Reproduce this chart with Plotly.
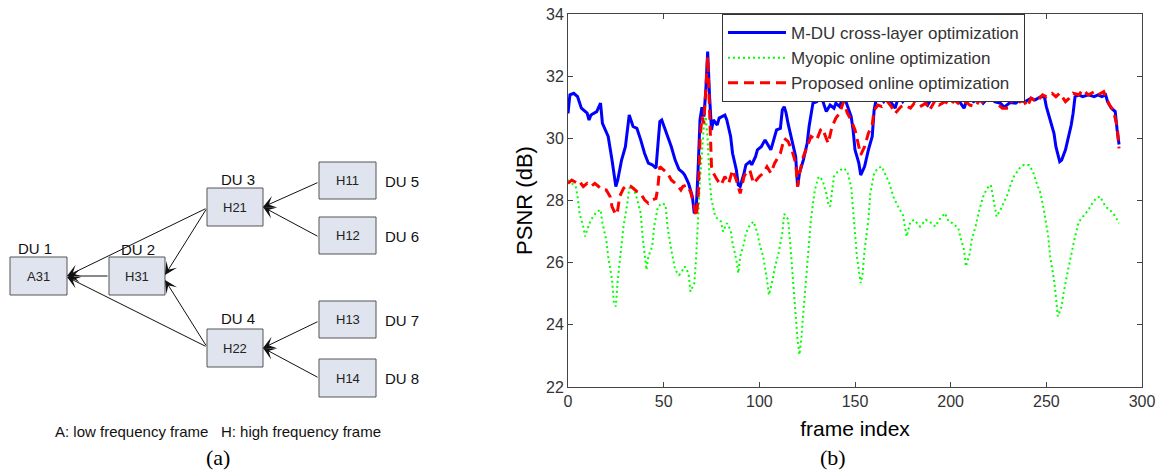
import plotly.graph_objects as go

FONT = "Liberation Sans, Arial, sans-serif"
SERIF = "Liberation Serif, Times New Roman, serif"

# ---------------- panel (b) data ----------------
series_names = ["M-DU cross-layer optimization",
                "Myopic online optimization",
                "Proposed online optimization"]

frames_mdu = [0, 1, 3, 5, 7, 10, 11, 12, 15, 17, 18, 20, 21, 23, 25, 26, 28, 30, 32, 34,
              36, 38, 40, 42, 44, 46, 48, 49, 51, 52, 54, 56, 58, 60, 61, 63, 65, 66, 67, 68,
              69, 70, 71, 72, 73, 74, 75, 76, 78, 79, 82, 83, 85, 86, 88, 89, 90, 92, 93, 95,
              96, 98, 99, 101, 103, 104, 106, 107, 109, 111, 112, 113, 114, 115, 117, 119, 120, 121, 123, 125,
              126, 128, 130, 132, 133, 135, 137, 139, 140, 142, 144, 146, 148, 149, 150, 152, 153, 155, 157, 159,
              160, 161, 163, 165, 167, 168, 171, 173, 175, 178, 181, 183, 186, 188, 191, 194, 196, 199, 201, 204,
              207, 209, 212, 215, 217, 221, 223, 226, 228, 231, 234, 236, 239, 242, 244, 247, 249, 250, 252, 254,
              255, 257, 258, 260, 262, 263, 264, 265, 267, 269, 272, 275, 277, 279, 281, 282, 284, 286, 287, 288]
psnr_mdu = [30.8, 31.4, 31.45, 31.34, 30.97, 30.81, 30.59, 30.75, 30.86, 31.13, 30.48, 30.16, 30.06, 29.3, 28.45, 28.66, 29.3, 29.73, 30.75, 30.38,
            30.32, 29.95, 29.52, 29.2, 29.15, 29.04, 30.54, 30.59, 30.27, 30.06, 29.73, 29.3, 29.0, 28.9, 28.82, 28.55, 28.13, 27.59, 27.7, 29.0,
            30.6, 31.0, 30.7, 31.5, 32.79, 31.34, 30.27, 30.59, 30.43, 30.65, 30.75, 30.59, 30.06, 29.52, 28.98, 28.5, 28.45, 28.88, 29.15, 29.25,
            29.15, 29.41, 29.63, 29.73, 29.95, 29.84, 29.63, 29.84, 30.27, 30.32, 30.91, 31.02, 30.81, 30.48, 29.95, 29.41, 28.45, 28.88, 29.3, 29.84,
            30.38, 31.13, 31.18, 31.34, 31.23, 30.86, 31.07, 30.97, 31.13, 31.02, 31.4, 31.02, 30.7, 30.27, 29.63, 29.2, 28.82, 29.09, 29.63, 30.06,
            30.91, 31.23, 31.34, 31.18, 31.4, 31.23, 30.97, 31.4, 31.18, 31.4, 31.18, 31.34, 31.23, 31.07, 31.4, 31.29, 31.23, 31.29, 31.4, 31.23,
            30.97, 31.34, 31.18, 31.29, 31.13, 31.4, 31.18, 31.13, 31.0, 31.15, 31.13, 31.23, 31.18, 31.29, 31.23, 31.34, 31.34, 31.02, 30.59, 30.16,
            29.73, 29.25, 29.3, 29.63, 30.16, 30.43, 30.81, 31.34, 31.4, 31.34, 31.4, 31.34, 31.4, 31.34, 31.4, 31.18, 30.97, 30.86, 30.27, 29.8]

frames_myopic = [0, 4, 5, 6, 8, 9, 10, 12, 15, 17, 18, 20, 21, 23, 24, 25, 26, 28, 29, 31,
                 32, 34, 36, 38, 39, 41, 42, 44, 45, 47, 49, 51, 52, 54, 56, 58, 59, 61, 63, 64,
                 66, 67, 68, 69, 70, 71, 72, 73, 74, 75, 77, 80, 81, 83, 85, 86, 88, 89, 90, 92,
                 93, 95, 97, 99, 100, 102, 104, 105, 107, 108, 110, 112, 113, 115, 116, 117, 118, 119, 120, 121,
                 122, 123, 124, 126, 127, 129, 131, 133, 135, 136, 137, 139, 141, 144, 146, 148, 149, 150, 151, 153,
                 154, 155, 157, 158, 160, 162, 164, 166, 168, 170, 172, 175, 177, 179, 181, 184, 187, 189, 192, 194,
                 197, 199, 201, 204, 205, 207, 208, 210, 211, 213, 215, 217, 219, 221, 222, 224, 226, 228, 230, 231,
                 233, 236, 238, 241, 243, 245, 247, 249, 251, 252, 254, 255, 256, 258, 259, 261, 263, 265, 267, 269,
                 272, 274, 276, 278, 281, 283, 285, 288]
psnr_myopic = [28.66, 28.45, 28.13, 27.59, 27.16, 26.84, 27.05, 27.38, 27.64, 27.7, 27.27, 26.73, 26.2, 25.45, 24.7, 24.59, 25.45, 26.52, 27.16, 27.91,
               28.39, 28.45, 28.07, 27.59, 26.84, 25.77, 26.2, 26.52, 27.16, 27.8, 27.91, 27.86, 27.16, 26.41, 25.77, 25.6, 25.66, 25.88, 25.66, 25.07,
               25.34, 26.2, 27.48, 28.66, 29.52, 30.38, 30.7, 29.95, 28.66, 28.02, 27.48, 27.32, 27.0, 27.27, 27.05, 26.63, 26.09, 25.66, 26.2, 26.63,
               26.95, 27.21, 27.32, 26.95, 26.63, 26.2, 25.45, 24.96, 25.45, 25.82, 26.3, 26.95, 27.57, 27.4, 26.73, 25.88, 25.3, 24.5, 23.5, 23.04,
               23.6, 24.4, 25.13, 26.52, 27.4, 28.34, 28.77, 28.66, 28.23, 27.91, 27.8, 28.77, 28.93, 29.04, 28.93, 28.45, 27.8, 26.95, 26.2, 25.34,
               25.66, 26.41, 27.38, 28.23, 28.88, 29.04, 29.09, 28.82, 28.55, 28.13, 27.86, 27.54, 26.84, 27.32, 27.38, 27.16, 27.38, 27.32, 27.16, 27.38,
               27.59, 27.32, 27.27, 27.11, 26.84, 26.41, 25.88, 26.3, 26.73, 27.16, 27.7, 28.13, 28.39, 28.5, 28.13, 27.48, 27.7, 27.95, 28.23, 28.45,
               28.77, 29.04, 29.14, 29.14, 28.93, 28.55, 28.23, 27.59, 26.84, 26.2, 25.45, 24.91, 24.27, 24.59, 25.02, 25.66, 26.3, 26.84, 27.32, 27.48,
               27.7, 27.91, 28.07, 28.13, 27.8, 27.7, 27.59, 27.27]

frames_proposed = [0, 2, 5, 6, 8, 10, 12, 14, 16, 18, 20, 22, 23, 25, 26, 27, 29, 31, 33, 36,
                   38, 40, 42, 44, 46, 47, 48, 50, 52, 54, 57, 59, 60, 62, 64, 66, 67, 68, 69, 70,
                   71, 73, 74, 75, 76, 78, 80, 82, 84, 86, 88, 90, 92, 93, 95, 97, 100, 102, 104, 106,
                   108, 111, 113, 115, 117, 119, 120, 121, 123, 125, 127, 130, 132, 133, 136, 138, 140, 142, 144, 146,
                   148, 150, 152, 153, 155, 157, 159, 160, 162, 164, 167, 169, 171, 174, 176, 179, 181, 184, 187, 189,
                   192, 194, 197, 200, 202, 205, 208, 210, 213, 215, 218, 221, 224, 227, 230, 233, 235, 238, 240, 242,
                   245, 248, 250, 253, 255, 257, 260, 262, 264, 267, 269, 272, 275, 277, 280, 282, 283, 285, 287, 288]
psnr_proposed = [28.55, 28.66, 28.55, 28.61, 28.45, 28.55, 28.45, 28.55, 28.45, 28.34, 28.34, 28.13, 27.8, 27.54, 27.7, 28.13, 28.39, 28.5, 28.45, 28.29,
                 28.23, 28.02, 27.91, 28.02, 28.07, 28.45, 29.09, 28.98, 28.88, 28.66, 28.5, 28.34, 28.45, 28.5, 28.29, 27.8, 27.48, 28.02, 29.95, 30.7,
                 30.48, 32.63, 30.7, 29.09, 28.88, 28.66, 28.5, 28.77, 28.55, 28.98, 28.66, 28.23, 28.77, 28.88, 28.98, 28.55, 28.77, 28.88, 29.09, 28.88,
                 29.2, 29.52, 30.0, 29.9, 29.63, 29.2, 28.45, 28.88, 29.41, 29.73, 30.06, 29.95, 30.27, 30.32, 29.84, 30.38, 30.65, 30.81, 31.18, 30.81,
                 30.59, 30.27, 29.73, 29.47, 29.73, 30.16, 30.43, 30.91, 31.07, 31.02, 31.18, 31.02, 30.8, 31.02, 31.07, 30.97, 31.13, 31.02, 31.13, 30.91,
                 31.23, 31.07, 31.18, 31.07, 31.23, 31.07, 31.18, 31.07, 31.02, 31.23, 31.13, 31.34, 31.13, 30.97, 30.97, 31.34, 31.13, 31.23, 31.02, 31.29,
                 31.18, 31.4, 31.34, 31.45, 31.34, 31.45, 31.18, 31.29, 31.45, 31.4, 31.56, 31.4, 31.5, 31.4, 31.5, 31.23, 31.07, 30.91, 30.38, 29.68]

x_ticks = [0, 50, 100, 150, 200, 250, 300]
y_ticks = [22, 24, 26, 28, 30, 32, 34]

# ---------------- panel (a) diagram content ----------------
node_labels = ["A31", "H31", "H21", "H22", "H11", "H12", "H13", "H14"]
du_labels = ["DU 1", "DU 2", "DU 3", "DU 4", "DU 5", "DU 6", "DU 7", "DU 8"]
# edges as (from node index, to node index)
edges = [(1, 0), (2, 0), (3, 0), (2, 1), (3, 1), (4, 2), (5, 2), (6, 3), (7, 3)]
footer_text = "A: low frequency frame   H: high frequency frame"
panel_labels = ["(a)", "(b)"]

# diagram geometry (window-pixel space of the left panel)
node_boxes = [(10, 257, 67, 295), (109, 257, 165, 295), (207, 188, 263, 226), (207, 329, 263, 367),
              (319, 162, 376, 199), (319, 217, 376, 254), (319, 301, 376, 338), (319, 359, 376, 397)]
du_pos = [(35, 248, "center"), (138, 249, "center"), (238, 179, "center"), (238, 318, "center"),
          (383, 181, "left"), (383, 236, "left"), (383, 320, "left"), (383, 378, "left")]
edge_tail = {(1, 0): (109, 276), (2, 0): (207, 208), (3, 0): (207, 347), (2, 1): (207, 208),
             (3, 1): (207, 347), (4, 2): (319, 182), (5, 2): (319, 237), (6, 3): (319, 321), (7, 3): (319, 378)}
edge_head = {(1, 0): (67, 276), (2, 0): (67, 276), (3, 0): (67, 277), (2, 1): (165, 275),
             (3, 1): (165, 280), (4, 2): (263, 207), (5, 2): (263, 207), (6, 3): (263, 348), (7, 3): (263, 348)}

fig = go.Figure()

styles = [dict(color="#0000ff", width=3, dash="solid"),
          dict(color="#00ff00", width=2, dash="2px,3px"),
          dict(color="#ff0000", width=3, dash="10px,6px")]
data_sets = [(frames_mdu, psnr_mdu), (frames_myopic, psnr_myopic), (frames_proposed, psnr_proposed)]
for name, (fx, fy), st in zip(series_names, data_sets, styles):
    fig.add_trace(go.Scatter(x=fx, y=fy, mode="lines", name=name, line=st,
                             xaxis="x", yaxis="y"))

W, H = 1166, 470
PX0, PX1, PY0, PY1 = 568, 1142, 14, 387   # plot box in window pixels


def fx_(px):
    return px / W


def fy_(py):
    return 1 - py / H


axis_common = dict(showline=True, linecolor="#444", linewidth=1, mirror="ticks",
                   ticks="inside", ticklen=5, tickcolor="#444", showgrid=False, zeroline=False,
                   tickfont=dict(family=FONT, size=16, color="#333"), fixedrange=True,
                   automargin=False, ticklabeloverflow="allow")

fig.update_layout(
    width=W, height=H, autosize=False,
    margin=dict(l=0, r=0, t=0, b=0, pad=0),
    paper_bgcolor="white", plot_bgcolor="white",
    xaxis=dict(domain=[fx_(PX0), fx_(PX1)], range=[0, 300], tickvals=x_ticks, anchor="y",
               title=dict(text="frame index", font=dict(family=FONT, size=21, color="#000"), standoff=12),
               **axis_common),
    yaxis=dict(domain=[fy_(PY1), fy_(PY0)], range=[22, 34], tickvals=y_ticks, anchor="x",
               title=dict(text="PSNR (dB)", font=dict(family=FONT, size=22, color="#000"), standoff=7),
               **axis_common),
    xaxis2=dict(domain=[0, 480 / W], range=[0, 480], visible=False, showticklabels=False,
                anchor="y2", fixedrange=True, automargin=False),
    yaxis2=dict(domain=[0, 1], range=[H, 0], visible=False, showticklabels=False,
                anchor="x2", fixedrange=True, automargin=False),
    legend=dict(x=fx_(722), y=fy_(PY0), xanchor="left", yanchor="top",
                bgcolor="white", bordercolor="#333", borderwidth=1,
                font=dict(family=FONT, size=17, color="#333"), itemwidth=58,
                tracegroupgap=0),
    showlegend=True,
)

shapes = []
annotations = []
for (x0, y0, x1, y1), lab in zip(node_boxes, node_labels):
    shapes.append(dict(type="rect", xref="x2", yref="y2", x0=x0, y0=y0, x1=x1, y1=y1,
                       fillcolor="#dfe4ee", line=dict(color="#555", width=1), layer="above"))
    annotations.append(dict(xref="x2", yref="y2", x=(x0 + x1) / 2, y=(y0 + y1) / 2, text=lab,
                            showarrow=False, font=dict(family=FONT, size=13, color="#222")))
for (x, y, al), lab in zip(du_pos, du_labels):
    annotations.append(dict(xref="x2", yref="y2", x=x, y=y, text=lab, showarrow=False,
                            xanchor=al, yanchor="middle", font=dict(family=FONT, size=15, color="#111")))
for e in edges:
    tx, ty = edge_tail[e]
    hx, hy = edge_head[e]
    annotations.append(dict(xref="x2", yref="y2", axref="x2", ayref="y2", x=hx, y=hy, ax=tx, ay=ty,
                            text="", showarrow=True, arrowhead=3, arrowsize=2.1, arrowwidth=1,
                            arrowcolor="#111", standoff=0, startstandoff=0))
annotations.append(dict(xref="x2", yref="y2", x=218, y=431, text=footer_text, showarrow=False,
                        xanchor="center", yanchor="middle", font=dict(family=FONT, size=15, color="#111")))
annotations.append(dict(xref="x2", yref="y2", x=218, y=457, text=panel_labels[0], showarrow=False,
                        xanchor="center", yanchor="middle", font=dict(family=SERIF, size=22, color="#000")))
annotations.append(dict(xref="paper", yref="paper", x=fx_(833), y=fy_(457), text=panel_labels[1],
                        showarrow=False, xanchor="center", yanchor="middle",
                        font=dict(family=SERIF, size=22, color="#000")))

fig.update_layout(shapes=shapes, annotations=annotations)
# remove the browser's default 8px body margin so the figure fills the window exactly
fig.write_html("out.html", config={"displayModeBar": False},
               post_script="document.body.style.margin='0';")
